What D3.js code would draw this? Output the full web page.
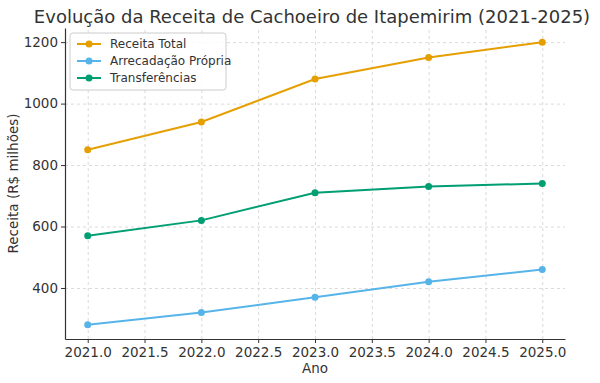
<!DOCTYPE html>
<meta charset="utf-8">
<head>
    <title>Receita Cachoeiro</title>
</head>
<style>
    body { margin: 0; background: #fff; }
    .axis path, .axis line { stroke: #333; }
    .axis text { fill: #333; font-size: 13.5px; font-family: "DejaVu Sans"; }
    .grid line { stroke: #d0d0d0; stroke-dasharray: 3,3; stroke-width: 0.8px; }
    .grid path { display: none; }
</style>
<body>
    <svg width="600" height="383" font-family="DejaVu Sans"></svg>
</body>
<script src="https://d3js.org/d3.v7.min.js"></script>
<script>
    var years = [2021, 2022, 2023, 2024, 2025];
    var receitaTotal = [850, 940, 1080, 1150, 1200];
    var arrecadacaoPropria = [280, 320, 370, 420, 460];
    var transferencias = [570, 620, 710, 730, 740];
    var xTicks = [2021, 2021.5, 2022, 2022.5, 2023, 2023.5, 2024, 2024.5, 2025];
    var yTicks = [400, 600, 800, 1000, 1200];

    var series = [
        { name: "Receita Total", values: receitaTotal, color: "#E69F00" },
        { name: "Arrecadação Própria", values: arrecadacaoPropria, color: "#56B4E9" },
        { name: "Transferências", values: transferencias, color: "#009E73" }
    ];

    var svg = d3.select("svg"),
        margin = { top: 28, right: 35, bottom: 44, left: 65 },
        width = 600 - margin.left - margin.right,
        height = 383 - margin.top - margin.bottom;

    var x = d3.scaleLinear().domain([2020.8, 2025.2]).range([0, width]);
    var y = d3.scaleLinear().domain([234, 1246]).range([height, 0]);

    var g = svg.append("g")
        .attr("transform", "translate(" + margin.left + "," + margin.top + ")");

    // grid
    g.append("g").attr("class", "grid")
        .attr("transform", "translate(0," + height + ")")
        .call(d3.axisBottom(x).tickValues(xTicks).tickSize(-height).tickFormat(""));
    g.append("g").attr("class", "grid")
        .call(d3.axisLeft(y).tickValues(yTicks).tickSize(-width).tickFormat(""));

    // axes
    var xAxis = g.append("g").attr("class", "axis")
        .attr("transform", "translate(0," + height + ")")
        .call(d3.axisBottom(x).tickValues(xTicks).tickSize(4).tickPadding(4).tickSizeOuter(0)
            .tickFormat(d3.format(".1f")));
    xAxis.select(".domain").attr("stroke-width", 1.2);

    var yAxis = g.append("g").attr("class", "axis")
        .call(d3.axisLeft(y).tickValues(yTicks).tickSize(4).tickPadding(3).tickSizeOuter(0)
            .tickFormat(d3.format("d")));
    yAxis.select(".domain").attr("stroke-width", 1.2);

    var line = d3.line()
        .x((d, i) => x(years[i]))
        .y(d => y(d));

    series.forEach(function (s) {
        g.append("path")
            .datum(s.values)
            .attr("fill", "none")
            .attr("stroke", s.color)
            .attr("stroke-width", 2)
            .attr("d", line);
        g.selectAll(null)
            .data(s.values)
            .enter()
            .append("circle")
            .attr("cx", (d, i) => x(years[i]))
            .attr("cy", d => y(d))
            .attr("r", 3.5)
            .attr("fill", s.color);
    });

    // legend
    var lg = g.append("g").attr("transform", "translate(5,5)");
    lg.append("rect")
        .attr("width", 156).attr("height", 57).attr("rx", 3)
        .attr("fill", "white").attr("fill-opacity", 0.85)
        .attr("stroke", "#ccc");
    series.forEach(function (s, i) {
        var row = lg.append("g").attr("transform", "translate(7," + (11 + i * 17) + ")");
        row.append("line").attr("x1", 0).attr("x2", 24)
            .attr("stroke", s.color).attr("stroke-width", 2);
        row.append("circle").attr("cx", 12).attr("r", 3.5).attr("fill", s.color);
        row.append("text").attr("x", 33).attr("dy", "0.35em")
            .attr("font-size", 12).attr("fill", "#333").text(s.name);
    });

    // titles
    svg.append("text")
        .attr("x", 312).attr("y", 23)
        .attr("text-anchor", "middle").attr("font-size", 18).attr("fill", "#333")
        .text("Evolução da Receita de Cachoeiro de Itapemirim (2021-2025)");
    svg.append("text")
        .attr("x", margin.left + width / 2).attr("y", 373)
        .attr("text-anchor", "middle").attr("font-size", 13.5).attr("fill", "#333")
        .text("Ano");
    svg.append("text")
        .attr("transform", "translate(18," + (margin.top + height / 2) + ") rotate(-90)")
        .attr("text-anchor", "middle").attr("font-size", 13.5).attr("fill", "#333")
        .text("Receita (R$ milhões)");
</script>
